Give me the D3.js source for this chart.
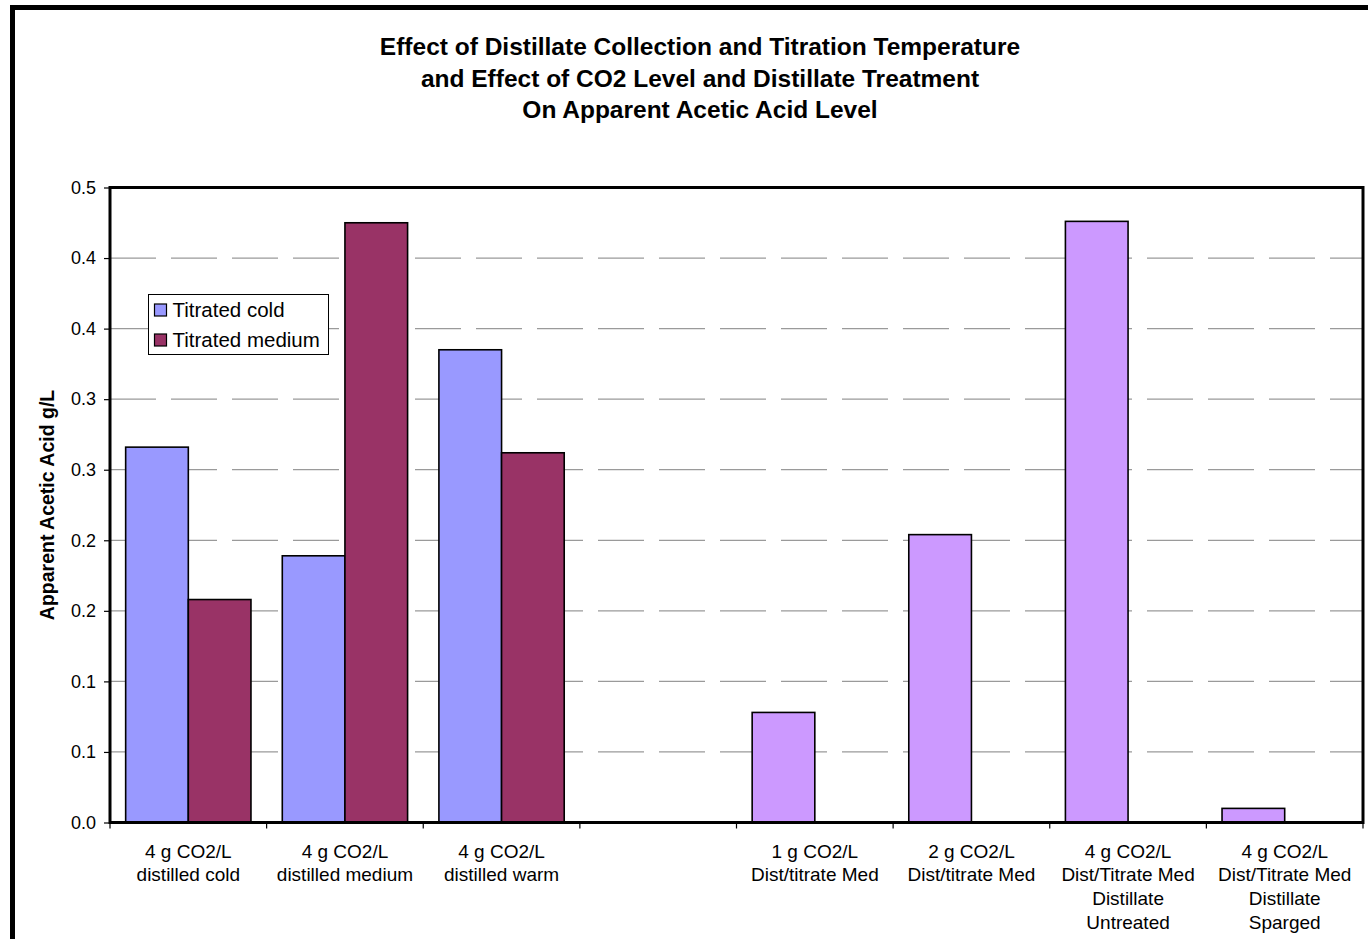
<!DOCTYPE html>
<html>
<head>
<meta charset="utf-8">
<script src="https://cdn.jsdelivr.net/npm/d3@7/dist/d3.min.js"></script>
<style>
  html, body { margin: 0; padding: 0; background: #fff; }
  svg { display: block; font-family: "Liberation Sans", Arial, sans-serif; }
</style>
</head>
<body>
<svg id="chart" width="1368" height="939"></svg>
<script>
// Category labels (multi-line), one blank slot separates the two experiments
const categories = [
  ["4 g CO2/L", "distilled cold"],
  ["4 g CO2/L", "distilled medium"],
  ["4 g CO2/L", "distilled warm"],
  [],
  ["1 g CO2/L", "Dist/titrate Med"],
  ["2 g CO2/L", "Dist/titrate Med"],
  ["4 g CO2/L", "Dist/Titrate Med", "Distillate", "Untreated"],
  ["4 g CO2/L", "Dist/Titrate Med", "Distillate", "Sparged"]
];

// Apparent acetic acid, g/L
const titratedCold   = [0.266, 0.189, 0.335, null, null, null, null, null];
const titratedMedium = [0.158, 0.425, 0.262, null, null, null, null, null];
const co2Treatment   = [null, null, null, null, 0.078, 0.204, 0.426, 0.010];

const seriesNames = ["Titrated cold", "Titrated medium"];
const yTicks = [0, 0.05, 0.1, 0.15, 0.2, 0.25, 0.3, 0.35, 0.4, 0.45];
const yTickLabels = ["0.0", "0.1", "0.1", "0.2", "0.2", "0.3", "0.3", "0.4", "0.4", "0.5"];
const titleLines = [
  "Effect of Distillate Collection and Titration Temperature",
  "and Effect of CO2 Level and Distillate Treatment",
  "On Apparent Acetic Acid Level"
];
const yTitle = "Apparent Acetic Acid g/L";

const colors = { cold: "#9999FF", medium: "#993366", co2: "#CC99FF" };

const svg = d3.select("#chart");
const margin = { left: 110, top: 187.5, right: 1363, bottom: 822.5 };
const W = margin.right - margin.left;
const H = margin.bottom - margin.top;

// Outer chart frame
svg.append("rect")
  .attr("x", 12.5).attr("y", 7.5)
  .attr("width", 1400).attr("height", 1000)
  .attr("fill", "#fff").attr("stroke", "#000").attr("stroke-width", 5);

// Title
svg.append("g").selectAll("text").data(titleLines).join("text")
  .attr("x", 700).attr("y", (d, i) => 55 + i * 31.5)
  .attr("text-anchor", "middle")
  .attr("font-size", 24.5).attr("font-weight", "bold")
  .text(d => d);

const g = svg.append("g").attr("transform", `translate(${margin.left},${margin.top})`);

const x = d3.scaleBand().domain(d3.range(categories.length)).range([0, W]).padding(0);
const xSub = d3.scaleBand().domain(["cold", "medium"]).range([0, x.bandwidth()])
  .paddingInner(0).paddingOuter(0.25);
const y = d3.scaleLinear().domain([0, 0.45]).range([H, 0]);

// Dashed gridlines
g.append("g").selectAll("line").data(yTicks.filter(t => t > 0 && t < 0.45)).join("line")
  .attr("x1", 0).attr("x2", W)
  .attr("y1", d => y(d)).attr("y2", d => y(d))
  .attr("stroke", "#9a9a9a").attr("stroke-width", 1.2)
  .attr("stroke-dasharray", "46,15");

// Bars
const bars = [];
categories.forEach((c, i) => {
  if (titratedCold[i] != null) bars.push({ i, slot: "cold", v: titratedCold[i], fill: colors.cold });
  if (titratedMedium[i] != null) bars.push({ i, slot: "medium", v: titratedMedium[i], fill: colors.medium });
  if (co2Treatment[i] != null) bars.push({ i, slot: "cold", v: co2Treatment[i], fill: colors.co2 });
});
g.append("g").selectAll("rect").data(bars).join("rect")
  .attr("x", d => x(d.i) + xSub(d.slot))
  .attr("width", xSub.bandwidth())
  .attr("y", d => y(d.v))
  .attr("height", d => H - y(d.v))
  .attr("fill", d => d.fill)
  .attr("stroke", "#000").attr("stroke-width", 1.6);

// Plot area frame
g.append("rect").attr("x", 0).attr("y", 0).attr("width", W).attr("height", H)
  .attr("fill", "none").attr("stroke", "#000").attr("stroke-width", 3);

// Y axis
const yAxis = d3.axisLeft(y).tickValues(yTicks)
  .tickFormat((d, i) => yTickLabels[i])
  .tickSize(6).tickPadding(8);
const ya = g.append("g").call(yAxis);
ya.select(".domain").remove();
ya.selectAll("line").attr("stroke", "#000").attr("stroke-width", 1.2);
ya.selectAll("text").attr("font-size", 18).attr("fill", "#000")
  .attr("font-family", "Liberation Sans, Arial, sans-serif");

// X axis ticks at category boundaries
const xa = g.append("g").attr("transform", `translate(0,${H})`);
xa.selectAll("line").data(d3.range(categories.length + 1)).join("line")
  .attr("x1", d => d * x.step()).attr("x2", d => d * x.step())
  .attr("y1", 0).attr("y2", 6)
  .attr("stroke", "#000").attr("stroke-width", 1.2);

// Category labels
const lbl = xa.selectAll("text.cat").data(categories).join("text")
  .attr("class", "cat")
  .attr("text-anchor", "middle")
  .attr("font-size", 19)
  .attr("transform", (d, i) => `translate(${x(i) + x.bandwidth() / 2},0)`);
lbl.selectAll("tspan").data(d => d).join("tspan")
  .attr("x", 0).attr("y", (d, j) => 35 + j * 23.7)
  .text(d => d);

// Y axis title
svg.append("text")
  .attr("transform", `translate(54,${(margin.top + margin.bottom) / 2}) rotate(-90)`)
  .attr("text-anchor", "middle")
  .attr("font-size", 19.5).attr("font-weight", "bold")
  .text(yTitle);

// Legend
const legend = svg.append("g").attr("transform", "translate(148.5,294.5)");
legend.append("rect").attr("width", 180).attr("height", 60)
  .attr("fill", "#fff").attr("stroke", "#000").attr("stroke-width", 1);
const items = legend.selectAll("g.item").data(seriesNames).join("g")
  .attr("class", "item")
  .attr("transform", (d, i) => `translate(0,${15.5 + i * 30})`);
items.append("rect").attr("x", 6).attr("y", -6).attr("width", 12).attr("height", 12)
  .attr("fill", (d, i) => i === 0 ? colors.cold : colors.medium)
  .attr("stroke", "#000").attr("stroke-width", 1.2);
items.append("text").attr("x", 24).attr("y", 7)
  .attr("font-size", 20.5).text(d => d);
</script>
</body>
</html>
